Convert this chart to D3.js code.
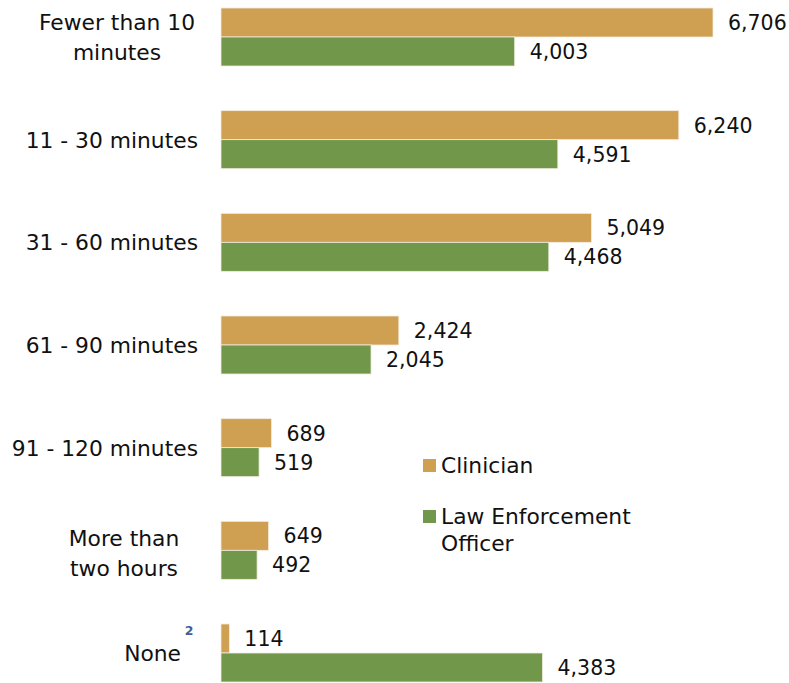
<!DOCTYPE html>
<html><head><meta charset="utf-8">
<script src="https://cdn.jsdelivr.net/npm/d3@7"></script>
<style>
html,body{margin:0;padding:0;background:#fff;}
svg{display:block;}
text{font-family:"DejaVu Sans",sans-serif;fill:#111;}
</style></head>
<body><div id="chart"></div>
<script>
const categories = ["Fewer than 10 minutes","11 - 30 minutes","31 - 60 minutes","61 - 90 minutes","91 - 120 minutes","More than two hours","None"];
const categoryLines = [["Fewer than 10","minutes"],["11 - 30 minutes"],["31 - 60 minutes"],["61 - 90 minutes"],["91 - 120 minutes"],["More than","two hours"],["None"]];
const seriesNames = ["Clinician","Law Enforcement Officer"];
const clinician = [6706,6240,5049,2424,689,649,114];
const lawEnforcement = [4003,4591,4468,2045,519,492,4383];

const W=789,H=683;
const colors=["#CF9F52","#71984A"];
const fs=21.8, nfs=20.5;
const svg=d3.select("#chart").append("svg").attr("width",W).attr("height",H);

const x=d3.scaleLinear().domain([0,6706]).range([221,713]);
const y=d3.scaleBand().domain(categories).range([-14.33,704.33]).paddingInner(0.435).paddingOuter(0.2175);
const sub=d3.scaleBand().domain(seriesNames).range([0,y.bandwidth()]);
const series=[clinician,lawEnforcement];

series.forEach((vals,si)=>{
  const g=svg.append("g");
  g.selectAll("rect").data(vals).join("rect")
    .attr("x",x(0)).attr("y",(d,i)=>y(categories[i])+sub(seriesNames[si]))
    .attr("width",d=>x(d)-x(0)).attr("height",sub.bandwidth())
    .attr("fill",colors[si]).attr("stroke","#f3ece0").attr("stroke-width",0.8);
  g.selectAll("text").data(vals).join("text")
    .attr("x",d=>x(d)+15).attr("y",(d,i)=>y(categories[i])+sub(seriesNames[si])+sub.bandwidth()/2)
    .attr("dy","0.36em").attr("font-size",nfs)
    .text(d=>d3.format(",")(d));
});

// category labels
const lineH=29.5;
categoryLines.forEach((lines,i)=>{
  const cy=y(categories[i])+y.bandwidth()/2;
  if(lines.length===1){
    svg.append("text").attr("class","cat").attr("x",lines[0]==="None"?181:198).attr("y",cy).attr("dy","0.36em")
      .attr("text-anchor","end").attr("font-size",fs).text(lines[0]);
  } else {
    const cx = i===0?117:124;
    lines.forEach((l,j)=>{
      svg.append("text").attr("x",cx).attr("y",cy+(j-0.5)*lineH+(i===0?0:3)).attr("dy","0.36em")
        .attr("text-anchor","middle").attr("font-size",fs).text(l);
    });
  }
});
// "None" footnote superscript
svg.append("text").attr("x",189).attr("y",y("None")+y.bandwidth()/2-18).attr("text-anchor","middle")
  .attr("font-size",12.5).attr("font-weight","bold").style("fill","#3E5F9A").text("2");

// legend
const leg=svg.append("g");
const legItems=[{lines:["Clinician"],y:465},{lines:["Law Enforcement","Officer"],y:516}];
legItems.forEach((it,k)=>{
  leg.append("rect").attr("x",423).attr("y",it.y-6).attr("width",13).attr("height",13).attr("fill",colors[k]);
  it.lines.forEach((l,j)=>{
    leg.append("text").attr("x",441).attr("y",it.y+j*27).attr("dy","0.36em").attr("font-size",fs).text(l);
  });
});
</script></body></html>
